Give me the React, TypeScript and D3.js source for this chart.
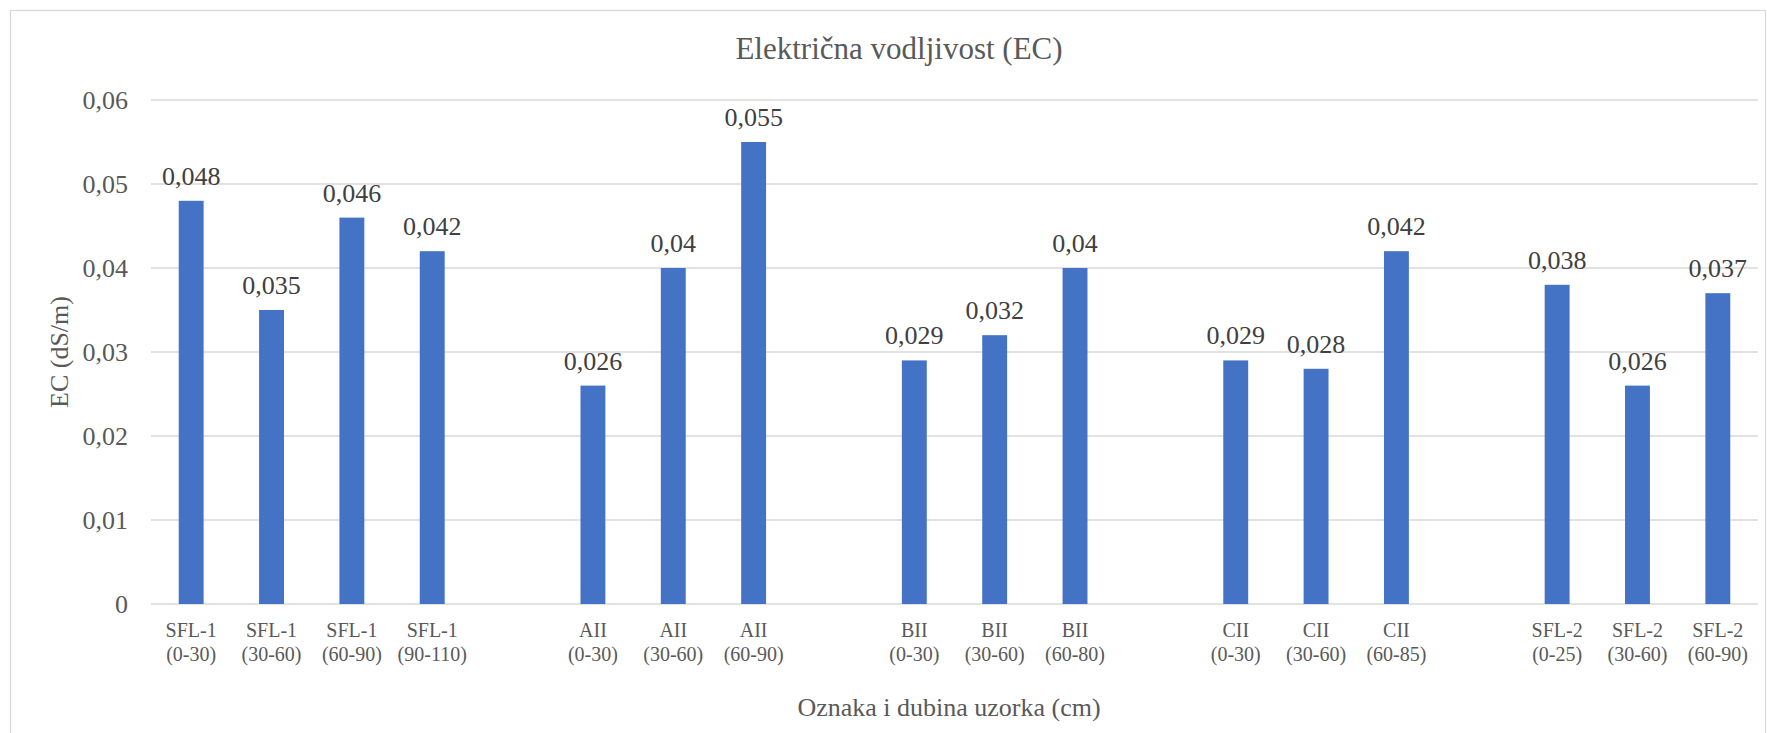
import { useEffect, useRef } from "react"
import * as d3 from "d3"

// slots, blank ones ("") keep the gaps between sample groups
const names = ["SFL-1", "SFL-1", "SFL-1", "SFL-1", "", "AII", "AII", "AII", "", "BII", "BII", "BII", "", "CII", "CII", "CII", "", "SFL-2", "SFL-2", "SFL-2"]
const depths = ["(0-30)", "(30-60)", "(60-90)", "(90-110)", "", "(0-30)", "(30-60)", "(60-90)", "", "(0-30)", "(30-60)", "(60-80)", "", "(0-30)", "(30-60)", "(60-85)", "", "(0-25)", "(30-60)", "(60-90)"]
const values: (number | null)[] = [0.048, 0.035, 0.046, 0.042, null, 0.026, 0.04, 0.055, null, 0.029, 0.032, 0.04, null, 0.029, 0.028, 0.042, null, 0.038, 0.026, 0.037]
const yTicks = [0, 0.01, 0.02, 0.03, 0.04, 0.05, 0.06]

const fmt = (v: number) => String(v).replace(".", ",")

export default function App() {
  const svgRef = useRef(null)

  useEffect(() => {
    if (!svgRef.current) return
    const svg = d3.select(svgRef.current)
    svg.selectAll("*").remove()

    const width = 1767
    const height = 733
    const left = 151
    const right = 1758
    const top = 100
    const bottom = 604
    const font = "'Liberation Serif', 'Times New Roman', serif"

    svg.attr("width", width).attr("height", height).style("display", "block")

    // chart frame
    svg.append("rect")
      .attr("x", 10.5).attr("y", 10.5)
      .attr("width", 1755).attr("height", 740)
      .attr("fill", "#fff").attr("stroke", "#d9d9d9").attr("stroke-width", 1.3)

    const keys = names.map((_, i) => String(i))
    const x = d3.scaleBand().domain(keys).range([left, right]).padding(0)
    const y = d3.scaleLinear().domain([0, 0.06]).range([bottom, top])
    const barW = x.bandwidth() * 0.31

    // gridlines
    svg.append("g").selectAll("line")
      .data(yTicks)
      .enter().append("line")
      .attr("x1", left).attr("x2", right)
      .attr("y1", (d) => y(d)).attr("y2", (d) => y(d))
      .attr("stroke", "#d9d9d9").attr("stroke-width", 1.5)

    // y tick labels
    svg.append("g").selectAll("text")
      .data(yTicks)
      .enter().append("text")
      .attr("x", 128)
      .attr("y", (d) => y(d) + 8.5)
      .attr("text-anchor", "end")
      .attr("font-family", font).attr("font-size", 26).attr("fill", "#595959")
      .text((d) => fmt(d))

    const data = values.map((v, i) => ({ key: keys[i], v })).filter((d) => d.v !== null) as { key: string; v: number }[]

    // bars
    svg.append("g").selectAll("rect")
      .data(data)
      .enter().append("rect")
      .attr("x", (d) => x(d.key)! + (x.bandwidth() - barW) / 2)
      .attr("y", (d) => y(d.v))
      .attr("width", barW)
      .attr("height", (d) => bottom - y(d.v))
      .attr("fill", "#4472c4")

    // value labels
    svg.append("g").selectAll("text")
      .data(data)
      .enter().append("text")
      .attr("x", (d) => x(d.key)! + x.bandwidth() / 2)
      .attr("y", (d) => y(d.v) - 16)
      .attr("text-anchor", "middle")
      .attr("font-family", font).attr("font-size", 26).attr("fill", "#404040")
      .text((d) => fmt(d.v))

    // category labels
    const cat = svg.append("g").selectAll("text")
      .data(keys.filter((k) => names[+k] !== ""))
      .enter().append("text")
      .attr("text-anchor", "middle")
      .attr("font-family", font).attr("font-size", 20).attr("fill", "#595959")
    cat.append("tspan")
      .attr("x", (k) => x(k)! + x.bandwidth() / 2).attr("y", 637)
      .text((k) => names[+k])
    cat.append("tspan")
      .attr("x", (k) => x(k)! + x.bandwidth() / 2).attr("y", 661)
      .text((k) => depths[+k])

    // title
    svg.append("text")
      .attr("x", 899).attr("y", 59)
      .attr("text-anchor", "middle")
      .attr("font-family", font).attr("font-size", 31).attr("fill", "#595959")
      .text("Električna vodljivost (EC)")

    // axis titles
    svg.append("text")
      .attr("x", 949).attr("y", 716)
      .attr("text-anchor", "middle")
      .attr("font-family", font).attr("font-size", 26).attr("fill", "#595959")
      .text("Oznaka i dubina uzorka (cm)")

    svg.append("text")
      .attr("transform", "translate(68,352) rotate(-90)")
      .attr("text-anchor", "middle")
      .attr("font-family", font).attr("font-size", 26).attr("fill", "#595959")
      .text("EC (dS/m)")
  }, [])

  return (
    <div style={{ position: "absolute", left: 0, top: 0 }}>
      <svg ref={svgRef}></svg>
    </div>
  )
}
